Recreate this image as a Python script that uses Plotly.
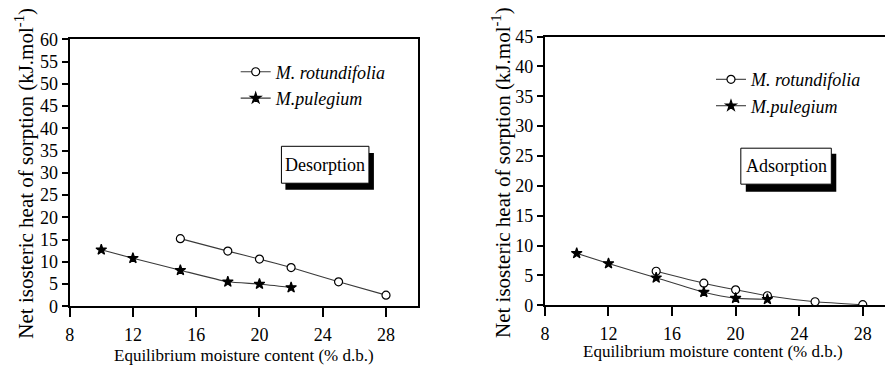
import plotly.graph_objects as go

W, H = 885, 374

# ---- data ----
x_rot_des = [15, 18, 20, 22, 25, 28]
y_rot_des = [15.2, 12.4, 10.6, 8.7, 5.5, 2.5]
x_pul_des = [10, 12, 15, 18, 20, 22]
y_pul_des = [12.7, 10.8, 8.1, 5.5, 5.0, 4.2]

x_rot_ads = [15, 18, 20, 22, 25, 28]
y_rot_ads = [5.7, 3.7, 2.6, 1.6, 0.6, 0.1]
x_pul_ads = [10, 12, 15, 18, 20, 22]
y_pul_ads = [8.7, 7.0, 4.6, 2.2, 1.2, 1.0]

x_ticks = [8, 12, 16, 20, 24, 28]
y_ticks_des = list(range(0, 61, 5))
y_ticks_ads = list(range(0, 46, 5))

names = ["M. rotundifolia", "M.pulegium"]
panel_labels = ["Desorption", "Adsorption"]
x_title = "Equilibrium moisture content (% d.b.)"
y_title = "Net isosteric heat of sorption (kJ.mol<sup>-1</sup>)"

FONT = "Times New Roman, Liberation Serif, DejaVu Serif, serif"
LINE_COL = "#3a3a3a"


def px(x):
    return x / W


def py(y):
    return 1 - y / H


fig = go.Figure()


def add_series(xs, ys, name, symbol, size, xa, ya, legend, fill):
    fig.add_trace(go.Scatter(
        x=xs, y=ys, name=name, mode="lines+markers",
        line=dict(color=LINE_COL, width=1.1, shape="spline", smoothing=0.5),
        marker=dict(symbol=symbol, size=size, color=fill,
                    line=dict(color="black", width=1.2)),
        xaxis=xa, yaxis=ya, legend=legend,
    ))


add_series(x_rot_des, y_rot_des, names[0], "circle", 8, "x", "y", "legend", "white")
add_series(x_pul_des, y_pul_des, names[1], "star", 8, "x", "y", "legend", "black")
add_series(x_rot_ads, y_rot_ads, names[0], "circle", 8, "x2", "y2", "legend2", "white")
add_series(x_pul_ads, y_pul_ads, names[1], "star", 8, "x2", "y2", "legend2", "black")

tickfont = dict(family=FONT, size=18, color="black")
common_x = dict(tickvals=x_ticks, ticks="outside", ticklen=9, tickwidth=1.5,
                tickcolor="black", showline=True, linecolor="black", linewidth=2,
                showgrid=False, zeroline=False, tickfont=tickfont,
                ticklabelstandoff=2)
common_y = dict(ticks="outside", ticklen=6, tickwidth=1.5, tickcolor="black",
                showline=True, linecolor="black", linewidth=2, showgrid=False,
                zeroline=False, tickfont=tickfont)

fig.update_layout(
    width=W, height=H,
    margin=dict(l=0, r=0, t=0, b=0),
    paper_bgcolor="white", plot_bgcolor="white",
    font=dict(family=FONT, color="black"),
    xaxis=dict(domain=[px(65), px(415)], range=[8, 30], anchor="y",
               mirror=True, **common_x),
    yaxis=dict(domain=[py(313), py(31)], range=[0, 60], anchor="x",
               tickvals=y_ticks_des, mirror=True, **common_y),
    xaxis2=dict(domain=[px(543), 1.0], range=[8, 29.4], anchor="y2",
                mirror=True, **common_x),
    yaxis2=dict(domain=[py(312), py(28)], range=[0, 45], anchor="x2",
                tickvals=y_ticks_ads, mirror=False, **common_y),
    legend=dict(x=px(232), y=py(46), xanchor="left", yanchor="top",
                bgcolor="rgba(0,0,0,0)", tracegroupgap=0,
                font=dict(family=FONT, size=18, style="italic", color="black")),
    legend2=dict(x=px(710), y=py(54), xanchor="left", yanchor="top",
                 bgcolor="rgba(0,0,0,0)", tracegroupgap=0,
                 font=dict(family=FONT, size=18, style="italic", color="black")),
    showlegend=True,
)

# label boxes with shadow
boxes = [
    ((278, 144, 366, 183), (282, 151, 371, 190), panel_labels[0]),
    ((740, 146, 831, 184), (745, 152, 836, 192), panel_labels[1]),
]
for (x0, y0, x1, y1), (sx0, sy0, sx1, sy1), label in boxes:
    fig.add_shape(type="rect", xref="paper", yref="paper",
                  x0=px(sx0), x1=px(sx1), y0=py(sy1), y1=py(sy0),
                  fillcolor="black", line=dict(width=0))
    fig.add_shape(type="rect", xref="paper", yref="paper",
                  x0=px(x0), x1=px(x1), y0=py(y1), y1=py(y0),
                  fillcolor="white", line=dict(color="black", width=1))
    fig.add_annotation(xref="paper", yref="paper", x=px((x0 + x1) / 2),
                       y=py((y0 + y1) / 2), text=label, showarrow=False,
                       xanchor="center", yanchor="middle",
                       font=dict(family=FONT, size=18, color="black"))

# axis titles
for cx, cy in [(240, 365), (712, 361)]:
    fig.add_annotation(xref="paper", yref="paper", x=px(cx), y=py(cy),
                       text=x_title, showarrow=False,
                       xanchor="center", yanchor="middle",
                       font=dict(family=FONT, size=17, color="black"))
for cx, cy in [(20, 172), (500, 172)]:
    fig.add_annotation(xref="paper", yref="paper", x=px(cx), y=py(cy),
                       text=y_title, showarrow=False, textangle=-90,
                       xanchor="center", yanchor="middle",
                       font=dict(family=FONT, size=21, color="black"))

fig.write_html("out.html")
